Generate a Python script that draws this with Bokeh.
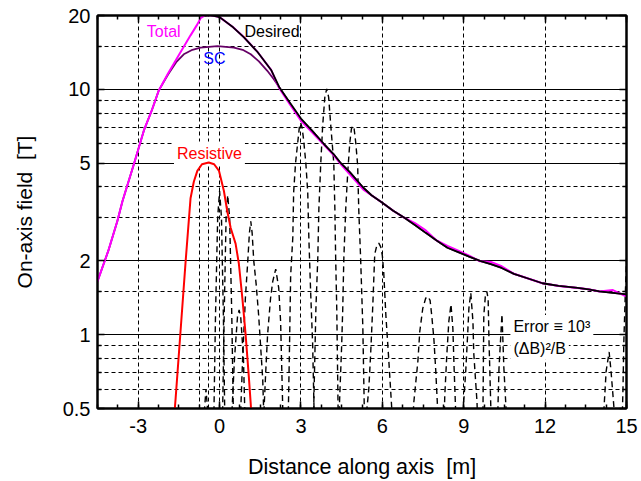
from bokeh.plotting import figure
from bokeh.models import (Range1d, FixedTicker, LinearAxis, LogAxis, Label,
                          CustomJSTickFormatter)
from bokeh.embed import file_html
from bokeh.resources import INLINE

# ---------------- data ----------------
total_x = [-4.5, -4.1, -3.77, -3.58, -3.16, -2.79, -2.5, -2.24, -1.9, -1.5, -1.07, -0.82, -0.7, -0.55, -0.37,
           0.0, 0.5, 0.9, 1.4, 1.9, 2.2, 2.6, 3.0, 3.4, 3.84, 4.2, 4.47, 4.8, 5.3, 5.6, 6.0, 6.4, 6.8, 7.2,
           7.6, 8.0, 8.4, 8.8, 9.2, 9.6, 10.0, 10.4, 10.85, 11.4, 11.9, 12.5, 13.2, 13.6, 14.0, 14.5, 15.0]
total_y = [1.65, 2.2, 2.9, 3.5, 4.95, 6.8, 8.2, 9.9, 11.6, 13.8, 16.6, 18.4, 19.5, 20.0, 20.1,
           19.7, 17.9, 16.3, 14.2, 12.0, 10.1, 8.65, 7.45, 6.7, 5.95, 5.4, 4.95, 4.5, 3.9, 3.7, 3.45, 3.2, 3.0, 2.85,
           2.66, 2.42, 2.3, 2.2, 2.1, 1.99, 1.98, 1.9, 1.77, 1.69, 1.62, 1.58, 1.55, 1.53, 1.50, 1.52, 1.43]

desired_x = [-0.55, -0.37, 0.0, 0.5, 0.9, 1.4, 1.9, 2.2, 2.6, 3.0, 3.4, 3.84, 4.2, 4.47, 4.8, 5.3, 5.6, 6.0,
             6.4, 6.8, 7.2, 7.6, 8.0, 8.4, 8.8, 9.2, 9.6, 10.0, 10.4, 10.85, 11.4, 11.9, 12.5, 13.2, 13.6,
             14.0, 14.5, 15.0]
desired_y = [20.0, 20.1, 19.7, 17.9, 16.3, 14.2, 12.0, 10.2, 8.8, 7.6, 6.8, 6.0, 5.45, 5.0, 4.6, 3.97, 3.7, 3.45,
             3.2, 3.0, 2.8, 2.6, 2.42, 2.26, 2.17, 2.08, 2.0, 1.94, 1.87, 1.77, 1.69, 1.62, 1.58, 1.55, 1.53,
             1.50, 1.48, 1.46]

sc_x = [-4.5, -4.1, -3.77, -3.58, -3.16, -2.79, -2.5, -2.24, -1.9, -1.6, -1.32, -1.0, -0.7, -0.08, 0.53,
        0.85, 1.15, 1.45, 1.76, 2.0, 2.25, 2.6, 3.0, 3.4, 3.84, 4.2, 4.47, 4.8, 5.3, 5.6, 6.0, 6.4, 6.8,
        7.2, 7.6, 8.0, 8.4, 8.8, 9.2, 9.6, 10.0, 10.4, 10.85, 11.4, 11.9, 12.5, 13.2, 13.6, 14.0, 14.5, 15.0]
sc_y = [1.65, 2.2, 2.9, 3.5, 4.95, 6.8, 8.2, 9.9, 11.5, 12.9, 13.9, 14.5, 14.8, 15.0, 14.8,
        14.5, 13.9, 13.0, 11.9, 11.0, 10.0, 8.75, 7.55, 6.8, 6.0, 5.45, 5.0, 4.6, 3.97, 3.7, 3.45, 3.2, 3.0,
        2.8, 2.6, 2.42, 2.26, 2.17, 2.08, 2.0, 1.94, 1.87, 1.77, 1.69, 1.62, 1.58, 1.55, 1.53, 1.50, 1.48, 1.46]

res_x = [-1.72, -1.62, -1.44, -1.25, -1.07, -0.95, -0.82, -0.65, -0.4, -0.2, -0.02, 0.16, 0.28, 0.41,
         0.59, 0.71, 0.84, 0.96, 1.08, 1.15, 1.2]
res_y = [0.4, 0.55, 1.03, 2.0, 3.6, 4.2, 4.65, 4.95, 5.03, 4.95, 4.65, 3.85, 3.2, 2.72,
         2.35, 1.95, 1.41, 1.0, 0.67, 0.52, 0.4]

# error = 1e3 (dB)^2 / B, one list per lobe between its zero crossings
err_x = [
    [-0.62, -0.5, -0.38],
    [-0.22, -0.15, -0.07, 0.0, 0.07, 0.14, 0.2],
    [0.1, 0.17, 0.24, 0.3, 0.37, 0.45, 0.52],
    [0.42, 0.55, 0.66, 0.72, 0.78, 0.88, 0.95],
    [0.75, 0.85, 0.95, 1.04, 1.1, 1.15, 1.2, 1.26, 1.35, 1.44, 1.59, 1.65],
    [1.6, 1.7, 1.77, 1.88, 1.96, 2.07, 2.18, 2.25, 2.35],
    [2.52, 2.58, 2.62, 2.7, 2.73, 2.8, 2.88, 2.94, 2.99, 3.04, 3.1, 3.18, 3.25, 3.29, 3.36, 3.43, 3.5],
    [3.45, 3.55, 3.62, 3.66, 3.73, 3.80, 3.88, 3.95, 4.02, 4.1, 4.21, 4.25, 4.28, 4.32, 4.38],
    [4.38, 4.5, 4.54, 4.58, 4.65, 4.73, 4.8, 4.86, 4.91, 4.96, 5.02, 5.09, 5.13, 5.2, 5.28, 5.35],
    [5.35, 5.5, 5.57, 5.65, 5.72, 5.8, 5.87, 5.94, 6.0, 6.05, 6.13, 6.24, 6.4],
    [7.1, 7.16, 7.31, 7.38, 7.49, 7.6, 7.68, 7.76, 7.82, 7.9, 7.97, 8.08],
    [8.27, 8.3, 8.38, 8.45, 8.53, 8.6, 8.64, 8.73],
    [8.97, 9.0, 9.08, 9.15, 9.19, 9.26, 9.34, 9.37, 9.49, 9.52],
    [9.68, 9.71, 9.74, 9.8, 9.85, 9.9, 9.93, 10.0, 10.03],
    [10.22, 10.26, 10.3, 10.41, 10.48, 10.56, 10.6],
    [14.12, 14.17, 14.25, 14.36, 14.43, 14.54, 14.6],
    [14.83, 14.87, 14.9, 14.95, 15.0, 15.05],
]
err_y = [
    [0.4, 0.6, 0.4],
    [0.4, 1.2, 3.0, 3.85, 3.0, 1.2, 0.4],
    [0.4, 1.2, 3.0, 3.7, 3.0, 1.2, 0.4],
    [0.4, 0.8, 1.18, 1.26, 1.18, 0.8, 0.4],
    [0.4, 0.8, 1.4, 2.0, 2.6, 2.9, 2.6, 2.0, 1.6, 1.2, 0.66, 0.4],
    [0.4, 0.7, 1.0, 1.41, 1.65, 1.85, 1.55, 1.13, 0.4],
    [0.4, 0.92, 1.74, 2.5, 3.8, 5.0, 6.06, 7.0, 7.3, 7.0, 6.2, 5.0, 3.8, 2.5, 1.46, 0.92, 0.4],
    [0.4, 1.27, 2.04, 3.25, 5.0, 7.1, 9.3, 10.05, 9.3, 7.1, 5.0, 3.25, 2.04, 1.27, 0.4],
    [0.4, 0.9, 1.27, 2.04, 3.25, 4.7, 6.06, 6.9, 7.1, 6.9, 6.06, 4.9, 3.25, 2.04, 1.08, 0.4],
    [0.4, 0.6, 0.84, 1.33, 2.13, 2.32, 2.36, 2.28, 2.1, 1.8, 1.2, 0.78, 0.4],
    [0.4, 0.53, 0.78, 1.03, 1.28, 1.41, 1.43, 1.38, 1.2, 0.96, 0.71, 0.4],
    [0.4, 0.56, 0.84, 1.13, 1.33, 1.06, 0.76, 0.4],
    [0.4, 0.53, 0.73, 1.03, 1.28, 1.48, 1.13, 0.84, 0.53, 0.4],
    [0.4, 0.5, 1.2, 1.45, 1.5, 1.4, 0.96, 0.5, 0.4],
    [0.4, 0.5, 0.73, 1.21, 0.73, 0.5, 0.4],
    [0.4, 0.5, 0.71, 0.85, 0.71, 0.5, 0.4],
    [0.4, 0.6, 0.92, 1.4, 2.0, 2.6],
]

x_major = [-3, 0, 3, 6, 9, 12, 15]
x_minor = [-4.5 + 0.75 * i for i in range(27)]
x_grid_lines = [-3, -0.75, -0.4, 0, 3, 6, 9, 12]
y_major = [0.5, 1, 2, 5, 10, 20]
y_grid_major = [1, 2, 5, 10]
y_minor = [0.6, 0.7, 0.8, 0.9, 1.5, 3, 4, 6, 7, 8, 9, 15]

FONT = "Liberation Sans"
NB = "\u00a0"

p = figure(width=641, height=481, x_range=Range1d(-4.5, 15), y_range=Range1d(0.5, 20),
           y_axis_type="log", output_backend="svg", toolbar_location=None,
           min_border_left=97, min_border_right=15, min_border_top=15, min_border_bottom=60)
p.background_fill_color = "white"
p.border_fill_color = "white"
p.outline_line_color = "black"
p.outline_line_width = 2

# grids
p.xgrid.ticker = FixedTicker(ticks=x_grid_lines)
p.xgrid.grid_line_color = "black"
p.xgrid.grid_line_width = 1
p.xgrid.grid_line_dash = "4 3"
p.ygrid.ticker = FixedTicker(ticks=y_grid_major, minor_ticks=y_minor)
p.ygrid.grid_line_color = "black"
p.ygrid.grid_line_width = 1
p.ygrid.minor_grid_line_color = "black"
p.ygrid.minor_grid_line_width = 1
p.ygrid.minor_grid_line_dash = "4 3"


def style_axis(ax, labels=True):
    ax.axis_line_color = "black"
    ax.axis_line_width = 2
    ax.major_tick_in = 7
    ax.major_tick_out = 0
    ax.minor_tick_in = 4
    ax.minor_tick_out = 0
    ax.major_tick_line_color = "black"
    ax.minor_tick_line_color = "black"
    ax.major_tick_line_width = 1.5
    ax.minor_tick_line_width = 1.5
    ax.major_label_text_font = FONT
    ax.major_label_text_color = "black"
    ax.axis_label_text_font = FONT
    ax.axis_label_text_font_style = "normal"
    ax.axis_label_text_color = "black"
    ax.major_label_text_font_size = "20px"
    if not labels:
        ax.formatter = CustomJSTickFormatter(code="return ''")
        ax.major_label_text_font_size = "1px"
        ax.major_label_standoff = 0


xt = FixedTicker(ticks=x_major, minor_ticks=x_minor)
yt = FixedTicker(ticks=y_major, minor_ticks=y_minor)
fmt = CustomJSTickFormatter(code="return String(tick)")

xa = p.xaxis[0]
xa.ticker = xt
xa.formatter = fmt
style_axis(xa)
xa.axis_label = "Distance along axis" + NB + NB + "[m]"
xa.axis_label_text_font_size = "21.5px"
xa.major_label_standoff = 10
xa.axis_label_standoff = 19

ya = p.yaxis[0]
ya.ticker = yt
ya.formatter = fmt
style_axis(ya)
ya.axis_label = "On-axis field" + NB + NB + "[T]"
ya.axis_label_text_font_size = "21px"
ya.major_label_standoff = 7
ya.axis_label_standoff = 24

top = LinearAxis(ticker=FixedTicker(ticks=x_major, minor_ticks=x_minor))
style_axis(top, labels=False)
p.add_layout(top, "above")
right = LogAxis(ticker=FixedTicker(ticks=y_major, minor_ticks=y_minor))
style_axis(right, labels=False)
p.add_layout(right, "right")


# text labels; white boxes interrupt grid lines but sit under the curves
def add_label(x, y, text, color, box=False):
    kw = dict(x=x, y=y, text=text, text_color=color, text_font=FONT, text_font_size="16px",
              text_baseline="middle", text_align="left")
    if box:
        kw.update(background_fill_color="white", padding=3, level="underlay")
    p.add_layout(Label(**kw))


add_label(-2.68, 17.2, "Total", "#ff00ff")
add_label(0.92, 17.2, "Desired", "black")
add_label(-0.6, 13.3, "SC", "#0000ff")
add_label(-1.68, 5.5, "Resistive", "#ff0000", box=True)
add_label(10.72, 1.08, "Error \u2261 10\u00b3", "black", box=True)
add_label(10.72, 0.88, "(\u0394B)\u00b2/B", "black", box=True)

# curves
p.multi_line(err_x, err_y, line_color="black", line_width=1.4, line_dash="6 4")
p.line(res_x, res_y, line_color="#ff0000", line_width=2)
p.line(sc_x, sc_y, line_color="#660066", line_width=1.8)
p.line(total_x, total_y, line_color="#ff00ff", line_width=2)
p.line(desired_x, desired_y, line_color="black", line_width=1.8)

open("out.html", "w").write(file_html(p, INLINE))
